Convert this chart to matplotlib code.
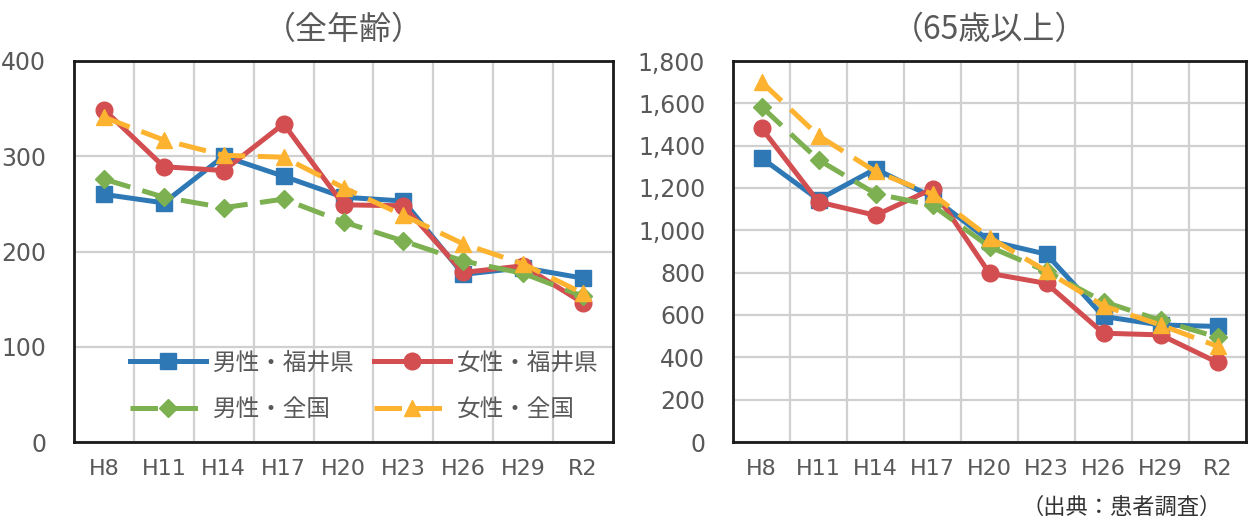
import numpy as np
import matplotlib.pyplot as plt
from matplotlib import font_manager

plt.rcParams['font.family'] = ['Noto Sans CJK JP', 'DejaVu Sans']
cond = [f.name for f in font_manager.fontManager.ttflist
        if 'Condensed' in f.fname or 'Narrow' in f.fname]
num_font = cond[0] if cond else 'DejaVu Sans'

years = ['H8', 'H11', 'H14', 'H17', 'H20', 'H23', 'H26', 'H29', 'R2']

# 全年齢
all_male_fukui = [260, 251, 300, 279, 257, 253, 176, 183, 172]
all_female_fukui = [349, 289, 285, 334, 249, 248, 178, 185, 146]
all_male_nat = [276, 257, 246, 255, 231, 211, 190, 177, 153]
all_female_nat = [341, 317, 301, 299, 267, 238, 208, 187, 156]

# 65歳以上
old_male_fukui = [1342, 1145, 1290, 1157, 950, 887, 593, 553, 546]
old_female_fukui = [1483, 1134, 1071, 1196, 797, 749, 514, 506, 376]
old_male_nat = [1584, 1333, 1173, 1118, 922, 807, 663, 575, 495]
old_female_nat = [1701, 1447, 1278, 1171, 966, 807, 643, 553, 452]

labels = ['男性・福井県', '女性・福井県', '男性・全国', '女性・全国']
blue, red, green, orange = '#2E78B5', '#D24E50', '#7DB050', '#FDB32F'
gray = '#595959'

fig = plt.figure(figsize=(12.52, 5.2), dpi=100)
ax1 = fig.add_axes([74 / 1252, 78 / 520, 539 / 1252, 381 / 520])
ax2 = fig.add_axes([733 / 1252, 78 / 520, 513 / 1252, 381 / 520])

x = np.arange(len(years))
dash = (0, (5.5, 2.5))


def draw(ax, mf, ff, mn, fn):
    h1, = ax.plot(x, mf, color=blue, lw=3.6, marker='s', ms=12, label=labels[0], zorder=3)
    h2, = ax.plot(x, ff, color=red, lw=3.6, marker='o', ms=12, label=labels[1], zorder=3)
    h3, = ax.plot(x, mn, color=green, lw=3.6, ls=dash, marker='D', ms=9.5,
                  label=labels[2], zorder=3)
    h4, = ax.plot(x, fn, color=orange, lw=3.6, ls=dash, marker='^', ms=12,
                  label=labels[3], zorder=3)
    ax.set_xlim(-0.5, len(years) - 0.5)
    ax.set_xticks(x)
    ax.set_xticklabels(years, family=num_font)
    ax.set_xticks(np.arange(0.5, len(years) - 1, 1), minor=True)
    ax.grid(which='minor', axis='x', color='#D0D0D0', lw=1.6)
    ax.grid(which='major', axis='y', color='#D0D0D0', lw=1.6)
    ax.tick_params(which='both', length=0)
    ax.tick_params(axis='x', pad=12, labelsize=16, labelcolor=gray)
    ax.tick_params(axis='y', pad=20, labelsize=17, labelcolor=gray)
    for s in ax.spines.values():
        s.set_linewidth(2)
        s.set_color('#1a1a1a')
    ax.set_axisbelow(True)
    return [h1, h3, h2, h4]


handles = draw(ax1, all_male_fukui, all_female_fukui, all_male_nat, all_female_nat)
ax1.set_ylim(0, 400)
ax1.set_yticks(range(0, 401, 100))
ax1.set_yticklabels([str(v) for v in range(0, 401, 100)], family=num_font)
ax1.set_title('（全年齢）', fontsize=23, color=gray, pad=16)
ax1.legend(handles=handles, ncol=2, frameon=False, loc='lower left',
           bbox_to_anchor=(0.104, 0.055), borderpad=0, borderaxespad=0,
           fontsize=17, labelcolor=gray, handlelength=3.2, columnspacing=0.85,
           handletextpad=0.3, labelspacing=1.0)

draw(ax2, old_male_fukui, old_female_fukui, old_male_nat, old_female_nat)
ax2.set_ylim(0, 1800)
ax2.set_yticks(range(0, 1801, 200))
ax2.set_yticklabels([f'{v:,}' for v in range(0, 1801, 200)], family=num_font)
ax2.set_title('（65歳以上）', fontsize=23, color=gray, pad=16)

fig.text(1222 / 1252, 1 - 507 / 520, '（出典：患者調査）', ha='right', va='center',
         fontsize=16, color='#333333')

fig.savefig('out.png', dpi=100)
